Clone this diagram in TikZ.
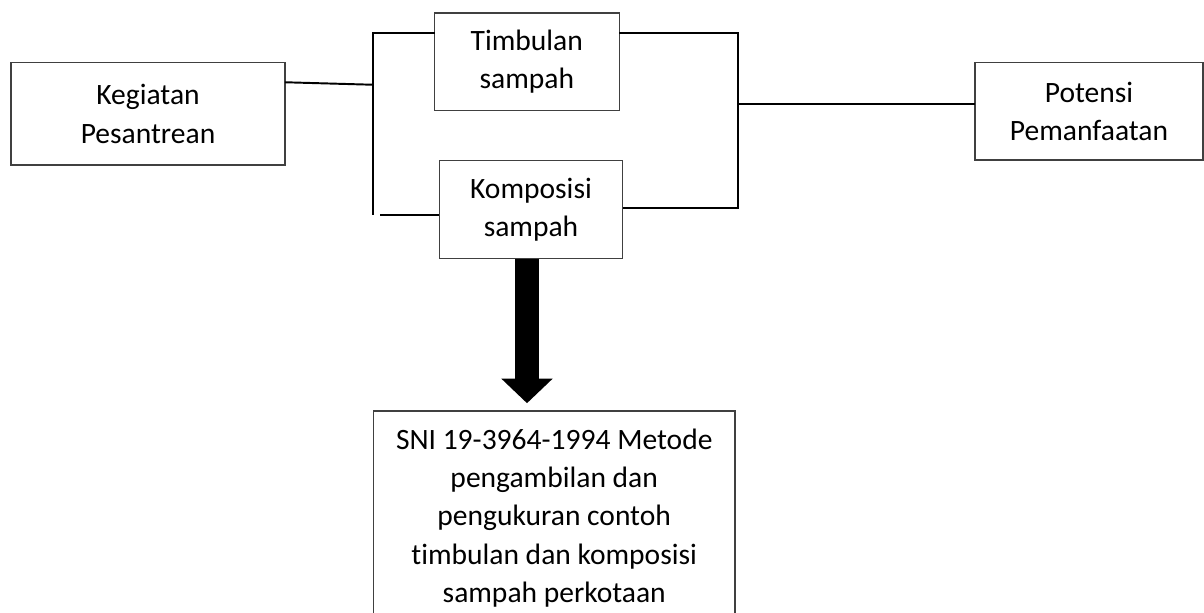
\documentclass[tikz,border=0pt]{standalone}
\usepackage{fontspec}
\setmainfont[Ligatures=NoCommon]{Carlito}
\usetikzlibrary{arrows.meta,calc}
\tikzset{
  pesbox/.style={draw=black!75,line width=0.6pt,inner sep=0pt,align=center,font=\fontsize{11.4}{14.8}\selectfont},
  pesline/.style={line width=0.75pt,line cap=rect},
  pesarr/.style={line width=9.3pt,-{Triangle[width=19.3pt,length=9.5pt]}}
}
\begin{document}
\begin{tikzpicture}[x=0.386pt,y=-0.386pt]
\useasboundingbox (0,0) rectangle (1204,613);
% boxes
\node[pesbox,minimum width=105.8pt,minimum height=39.5pt] (keg) at (148,113.8) {Kegiatan\\Pesantrean};
\node[pesbox,minimum width=71.4pt,minimum height=37.8pt] (timb) at (526.8,61.7) {Timbulan\\sampah};
\node[pesbox,minimum width=70.8pt,minimum height=37.7pt] (komp) at (531,209.5) {Komposisi\\sampah};
\node[pesbox,minimum width=88pt,minimum height=37.6pt] (pot) at (1089,111.3) {Potensi\\Pemanfaatan};
\node[pesbox,minimum width=139.6pt,minimum height=82.6pt] (sni) at (554.2,518) {SNI 19-3964-1994 Metode\\pengambilan dan\\pengukuran contoh\\timbulan dan komposisi\\sampah perkotaan};
% bracket points
\coordinate (kout) at (0,82.3);
\coordinate (kin) at (371,84.7);
\coordinate (lt) at (372.7,32.7);
\coordinate (lb) at (372.7,214);
\coordinate (lbs) at (381,215);
\coordinate (rt) at (738,32.7);
\coordinate (rb) at (738,208);
\coordinate (rm) at (738,104.3);
\coordinate (ax) at (527,0);
% left bracket
\draw[pesline] (keg.east |- kout) -- (kin);
\draw[pesline] (lt) -- (lb);
\draw[pesline] (lt) -- (timb.west |- lt);
\draw[pesline] (lbs) -- (komp.west |- lbs);
% right bracket
\draw[pesline] (timb.east |- rt) -- (rt) -- (rb) -- (komp.east |- rb);
\draw[pesline] (rm) -- (pot.west |- rm);
% block arrow
\draw[pesarr,shorten >=2.7pt] (komp.south -| ax) -- (sni.north -| ax);
\end{tikzpicture}
\end{document}
